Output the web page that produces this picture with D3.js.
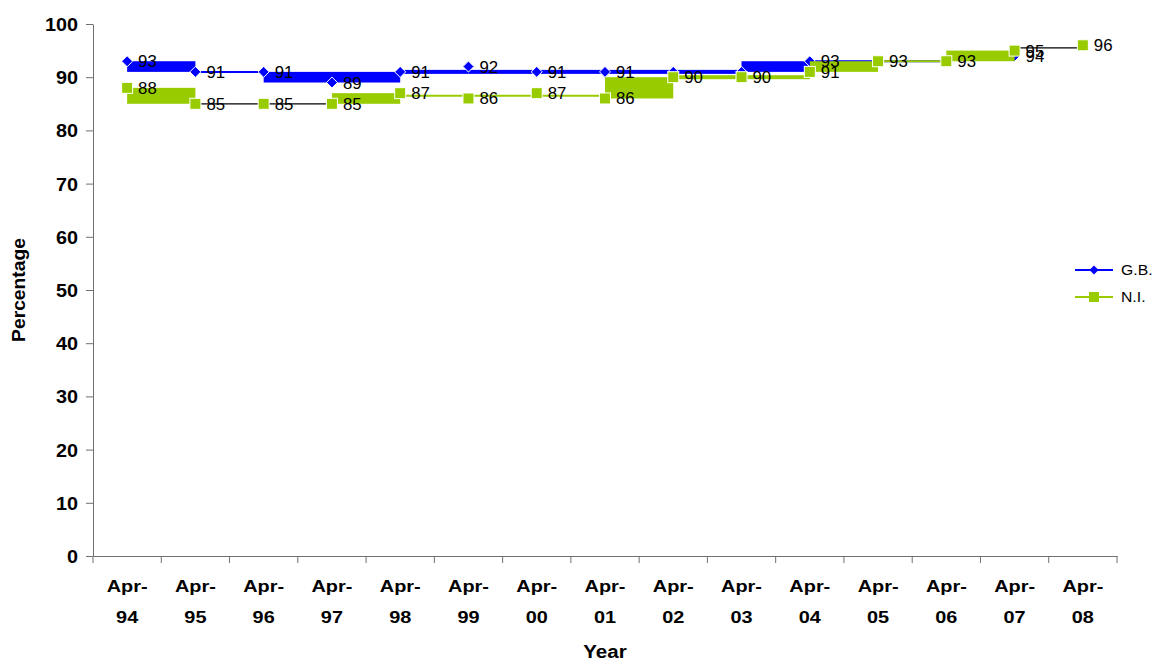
<!DOCTYPE html>
<html>
<head>
<meta charset="utf-8">
<script src="https://cdn.jsdelivr.net/npm/d3@7"></script>
<style>
  body { margin: 0; background: #fff; }
  svg { display: block; }
  text { font-family: Arial, "Liberation Sans", sans-serif; fill: #000; }
</style>
</head>
<body>
<svg id="chart" width="1156" height="661"></svg>
<script>
// Survey years (April of each year)
const categories = ["Apr-94", "Apr-95", "Apr-96", "Apr-97", "Apr-98", "Apr-99", "Apr-00",
                    "Apr-01", "Apr-02", "Apr-03", "Apr-04", "Apr-05", "Apr-06", "Apr-07", "Apr-08"];

// Percentage values per series
const gbValues = [93, 91, 91, 89, 91, 92, 91, 91, 91, 91, 93, 93, 93, 94, null];
const niValues = [88, 85, 85, 85, 87, 86, 87, 86, 90, 90, 91, 93, 93, 95, 96];

// Data labels shown next to the markers (null = no label drawn)
const gbLabels = [93, 91, 91, 89, 91, 92, 91, 91, null, null, 93, null, null, 94, null];
const niLabels = [88, 85, 85, 85, 87, 86, 87, 86, 90, 90, 91, 93, 93, 95, 96];

// How each connecting segment is rendered
const gbSegments = ["band", "thin", "band", "band", "thick", "thick", "thick", "thick", "thick", "band", "thin", "thin", "thin", null];
const niSegments = ["band", "dark", "dark", "band", "thin", "thin", "thin", "band", "thick", "thick", "band", "thin", "band", "dark"];

const yTicks = [0, 10, 20, 30, 40, 50, 60, 70, 80, 90, 100];

const GB_COLOR = "#0000FF";
const NI_COLOR = "#99CC00";
const AXIS_COLOR = "#707070";

const svg = d3.select("#chart");
const margin = { left: 93, right: 1117, top: 24, bottom: 556 };

const x = d3.scaleBand().domain(categories).range([margin.left, margin.right]).padding(0);
const y = d3.scaleLinear().domain([0, 100]).range([margin.bottom, margin.top]);
const cx = i => x(categories[i]) + x.bandwidth() / 2;

// Widen text horizontally by factor k
function stretch(sel, k) {
  sel.each(function () {
    const w = this.getComputedTextLength();
    d3.select(this).attr("textLength", w * k).attr("lengthAdjust", "spacingAndGlyphs");
  });
}

// ---- Y axis ----
const yAxis = svg.append("g")
  .attr("transform", `translate(${margin.left},0)`)
  .call(d3.axisLeft(y).tickValues(yTicks).tickSize(7).tickSizeOuter(0).tickPadding(8));
yAxis.select(".domain").attr("stroke", AXIS_COLOR);
yAxis.selectAll(".tick line").attr("stroke", AXIS_COLOR);
yAxis.selectAll(".tick text")
  .attr("font-size", 18).attr("font-weight", "bold")
  .attr("font-family", "Arial, 'Liberation Sans', sans-serif")
  .attr("fill", "#000")
  .attr("dy", "0.36em")
  .call(stretch, 1.1);

// ---- X axis ----
const xAxis = svg.append("g")
  .attr("transform", `translate(0,${margin.bottom})`)
  .call(d3.axisBottom(x).tickSize(0).tickSizeOuter(0));
xAxis.select(".domain").attr("stroke", AXIS_COLOR);
xAxis.selectAll(".tick text").remove();
xAxis.selectAll(".tick").each(function (d) {
  const g = d3.select(this);
  g.append("text").attr("y", 36).attr("text-anchor", "middle")
    .attr("font-size", 17).attr("font-weight", "bold").text(d.slice(0, 4)).call(stretch, 1.17);
  g.append("text").attr("y", 67).attr("text-anchor", "middle")
    .attr("font-size", 17).attr("font-weight", "bold").text(d.slice(4)).call(stretch, 1.17);
});
// Tick marks between categories
const boundaries = categories.map(c => x(c)).concat([x.range()[1]]);
svg.append("g").selectAll("line").data(boundaries).join("line")
  .attr("x1", d => d).attr("x2", d => d)
  .attr("y1", margin.bottom).attr("y2", margin.bottom + 7)
  .attr("stroke", AXIS_COLOR);

// ---- Axis titles ----
svg.append("text")
  .attr("x", (margin.left + margin.right) / 2).attr("y", 658)
  .attr("text-anchor", "middle").attr("font-size", 18).attr("font-weight", "bold")
  .text("Year").call(stretch, 1.14);
svg.append("text")
  .attr("transform", `translate(25,${(margin.top + margin.bottom) / 2}) rotate(-90)`)
  .attr("text-anchor", "middle").attr("font-size", 18).attr("font-weight", "bold")
  .text("Percentage").call(stretch, 1.07);

// ---- Series ----
function drawSegments(values, styles, color) {
  const g = svg.append("g");
  styles.forEach((style, i) => {
    const a = values[i], b = values[i + 1];
    if (style == null || a == null || b == null) return;
    const x0 = cx(i), x1 = cx(i + 1);
    const lo = Math.min(a, b), hi = Math.max(a, b);
    if (style === "band") {
      let top = y(hi), bot = y(lo);
      if (bot - top < 4) { const m = (top + bot) / 2; top = m - 2; bot = m + 2; }
      g.append("rect").attr("x", x0).attr("y", top)
        .attr("width", x1 - x0).attr("height", bot - top).attr("fill", color);
    } else if (style === "thick") {
      g.append("rect").attr("x", x0).attr("y", y(lo) - 2)
        .attr("width", x1 - x0).attr("height", 4).attr("fill", color);
    } else {
      const ym = y((a + b) / 2);
      g.append("line").attr("x1", x0).attr("x2", x1).attr("y1", ym).attr("y2", ym)
        .attr("stroke", style === "dark" ? "#000" : color)
        .attr("stroke-width", style === "dark" ? 1.2 : 2);
    }
  });
}

const diamond = s => `M0,${-s}L${s},0L0,${s}L${-s},0Z`;

function drawMarkers(values, color, shape) {
  const pts = values.map((v, i) => ({ v, i })).filter(d => d.v != null);
  const g = svg.append("g");
  if (shape === "diamond") {
    g.selectAll("path").data(pts).join("path")
      .attr("d", diamond(5.5))
      .attr("transform", d => `translate(${cx(d.i)},${y(d.v)})`)
      .attr("fill", color).attr("stroke", "#fff").attr("stroke-width", 1);
  } else {
    g.selectAll("rect").data(pts).join("rect")
      .attr("x", d => cx(d.i) - 5.5).attr("y", d => y(d.v) - 5.5)
      .attr("width", 11).attr("height", 11)
      .attr("fill", color).attr("stroke", "#fff").attr("stroke-width", 1);
  }
}

function drawLabels(values, labels) {
  const pts = labels.map((t, i) => ({ t, i, v: values[i] })).filter(d => d.t != null && d.v != null);
  svg.append("g").selectAll("text").data(pts).join("text")
    .attr("x", d => cx(d.i) + 11).attr("y", d => y(d.v) + 6)
    .attr("font-size", 16).text(d => d.t).call(stretch, 1.05);
}

drawSegments(gbValues, gbSegments, GB_COLOR);
drawMarkers(gbValues, GB_COLOR, "diamond");
drawSegments(niValues, niSegments, NI_COLOR);
drawMarkers(niValues, NI_COLOR, "square");
drawLabels(gbValues, gbLabels);
drawLabels(niValues, niLabels);

// ---- Legend ----
const legend = svg.append("g").attr("transform", "translate(1075,270)");
const items = [
  { name: "G.B.", color: GB_COLOR, shape: "diamond" },
  { name: "N.I.", color: NI_COLOR, shape: "square" }
];
items.forEach((it, k) => {
  const g = legend.append("g").attr("transform", `translate(0,${k * 27})`);
  g.append("line").attr("x1", 0).attr("x2", 38).attr("y1", 0).attr("y2", 0)
    .attr("stroke", it.color).attr("stroke-width", 2);
  if (it.shape === "diamond") {
    g.append("path").attr("d", diamond(4.5)).attr("transform", "translate(19,0)").attr("fill", it.color);
  } else {
    g.append("rect").attr("x", 14).attr("y", -5).attr("width", 10).attr("height", 10).attr("fill", it.color);
  }
  g.append("text").attr("x", 46).attr("y", 5).attr("font-size", 15).text(it.name).call(stretch, 1.05);
});
</script>
</body>
</html>
